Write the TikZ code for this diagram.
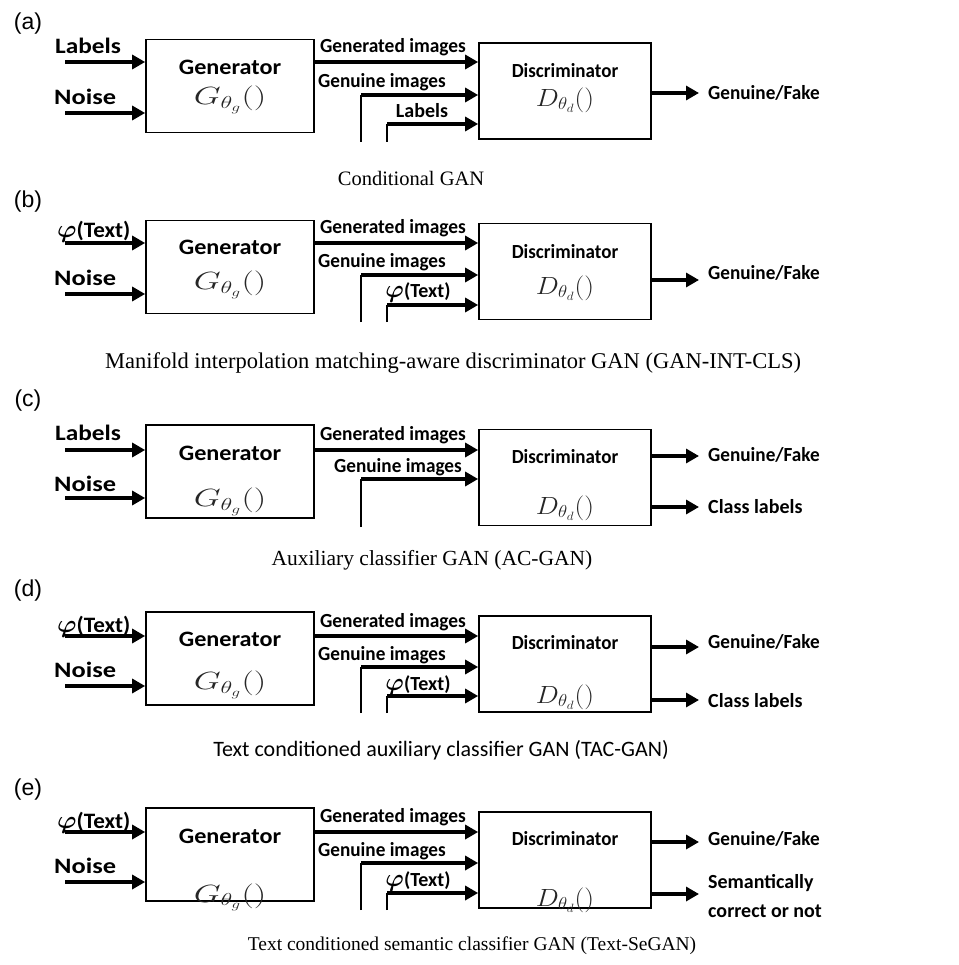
\documentclass[tikz,border=0pt]{standalone}
\usepackage{graphicx}
\usepackage{fontspec}
\setmainfont{Liberation Serif}
\newfontfamily\labfont{Carlito}
\newfontfamily\tagfont{Liberation Sans}
\usetikzlibrary{arrows.meta}

% horizontally stretched label text
\newcommand{\stretchx}[2]{\scalebox{#1}[1]{#2}}
% the phi used in the text inputs
\newcommand{\phitext}{{\fontsize{23}{24}\selectfont\boldmath$\varphi$}(Text)}

\tikzset{
  x=1pt, y=-1pt,
  genbox/.style={draw, line width=1.7pt, minimum width=168pt, minimum height=93pt, inner sep=0pt},
  disbox/.style={genbox, minimum width=172pt, minimum height=96pt},
  lab/.style={font=\labfont\bfseries\fontsize{20}{22}\selectfont, inner sep=0pt},
  biglab/.style={font=\labfont\bfseries\fontsize{22}{24}\selectfont, inner sep=0pt},
  boxtitle/.style={lab},
  gentitle/.style={biglab},
  inlab/.style={biglab, anchor=base west},
  midlab/.style={lab, anchor=base},
  outlab/.style={lab, anchor=west},
  mathlab/.style={font=\fontsize{26}{30}\selectfont, text=black!85, inner sep=0pt},
  captext/.style={inner sep=0pt},
  tag/.style={font=\tagfont\fontsize{23}{26}\selectfont, inner sep=0pt},
  arr/.style={line width=3.2pt, -{Triangle[length=13pt,width=14pt]}},
  stub/.style={line width=1.6pt},
}

\begin{document}
\begin{tikzpicture}
\useasboundingbox (0,0) rectangle (958,965);

% ---------------- (a) Conditional GAN ----------------
\node[tag] (a-tag) at (28,24) {(a)};
\node[genbox] (a-gen) at (230,86) {};
\node[gentitle] (a-gtitle) at (230,67) {\stretchx{1.1}{Generator}};
\node[mathlab] (a-gmath) at (230,100) {\stretchx{1.4}{$G_{\theta_g}()$}};
\node[disbox] (a-dis) at (565,91) {};
\node[boxtitle] (a-dtitle) at (565,71) {\stretchx{0.95}{Discriminator}};
\node[mathlab] (a-dmath) at (565,100) {\stretchx{1.1}{$D_{\theta_d}()$}};
\coordinate (a-in1) at (65,62);
\coordinate (a-in2) at (65,113);
\draw[arr] (a-in1) -- (a-in1 -| a-gen.west);
\draw[arr] (a-in2) -- (a-in2 -| a-gen.west);
\node[inlab] (a-lin1) at (55,54) {\stretchx{1.15}{Labels}};
\node[inlab] (a-lin2) at (54,105) {\stretchx{1.2}{Noise}};
\draw[arr] (a-gen.east |- a-in1) -- (a-dis.west |- a-in1);
\node[midlab] (a-lgen) at (393,53) {\stretchx{0.97}{Generated images}};
\coordinate (a-r1) at (361,142);
\coordinate (a-r1c) at (361,95);
\draw[stub] (a-r1) -- (a-r1c);
\draw[arr] (a-r1c) -- (a-r1c -| a-dis.west);
\node[midlab] (a-lreal) at (382,88) {\stretchx{0.96}{Genuine images}};
\coordinate (a-c1) at (387,142);
\coordinate (a-c1c) at (387,124);
\draw[stub] (a-c1) -- (a-c1c);
\draw[arr] (a-c1c) -- (a-c1c -| a-dis.west);
\node[midlab] (a-lcond) at (422,118) {Labels};
\coordinate (a-out1) at (699,93);
\draw[arr] (a-dis.east |- a-out1) -- (a-out1);
\node[outlab] (a-lout1) at (708,93) {\stretchx{0.96}{Genuine/Fake}};
\node[captext, font=\fontsize{20.5}{24}\selectfont] (a-cap) at (411,178) {Conditional GAN};

% ---------------- (b) GAN-INT-CLS ----------------
\node[tag] (b-tag) at (28,202) {(b)};
\node[genbox] (b-gen) at (230,267) {};
\node[gentitle] (b-gtitle) at (230,247) {\stretchx{1.1}{Generator}};
\node[mathlab] (b-gmath) at (230,285) {\stretchx{1.4}{$G_{\theta_g}()$}};
\node[disbox] (b-dis) at (565,271.5) {};
\node[boxtitle] (b-dtitle) at (565,252) {\stretchx{0.95}{Discriminator}};
\node[mathlab] (b-dmath) at (565,288) {\stretchx{1.1}{$D_{\theta_d}()$}};
\coordinate (b-in1) at (65,243);
\coordinate (b-in2) at (65,294);
\draw[arr] (b-in1) -- (b-in1 -| b-gen.west);
\draw[arr] (b-in2) -- (b-in2 -| b-gen.west);
\node[inlab] (b-lin1) at (57,238) {\stretchx{1.05}{\phitext}};
\node[inlab] (b-lin2) at (54,286) {\stretchx{1.2}{Noise}};
\draw[arr] (b-gen.east |- b-in1) -- (b-dis.west |- b-in1);
\node[midlab] (b-lgen) at (393,234) {\stretchx{0.97}{Generated images}};
\coordinate (b-r1) at (361,322);
\coordinate (b-r1c) at (361,275);
\draw[stub] (b-r1) -- (b-r1c);
\draw[arr] (b-r1c) -- (b-r1c -| b-dis.west);
\node[midlab] (b-lreal) at (382,268) {\stretchx{0.96}{Genuine images}};
\coordinate (b-c1) at (387,322);
\coordinate (b-c1c) at (387,305);
\draw[stub] (b-c1) -- (b-c1c);
\draw[arr] (b-c1c) -- (b-c1c -| b-dis.west);
\node[midlab] (b-lcond) at (418,297) {\phitext};
\coordinate (b-out1) at (699,280);
\draw[arr] (b-dis.east |- b-out1) -- (b-out1);
\node[outlab] (b-lout1) at (708,273) {\stretchx{0.96}{Genuine/Fake}};
\node[captext, font=\fontsize{22.5}{26}\selectfont] (b-cap) at (453,363) {Manifold interpolation matching-aware discriminator GAN (GAN-INT-CLS)};

% ---------------- (c) AC-GAN ----------------
\node[tag] (c-tag) at (28,401) {(c)};
\node[genbox] (c-gen) at (230,471.5) {};
\node[gentitle] (c-gtitle) at (230,453) {\stretchx{1.1}{Generator}};
\node[mathlab] (c-gmath) at (230,502) {\stretchx{1.4}{$G_{\theta_g}()$}};
\node[disbox] (c-dis) at (565,477.5) {};
\node[boxtitle] (c-dtitle) at (565,457) {\stretchx{0.95}{Discriminator}};
\node[mathlab] (c-dmath) at (565,508) {\stretchx{1.1}{$D_{\theta_d}()$}};
\coordinate (c-in1) at (65,450);
\coordinate (c-in2) at (65,498);
\draw[arr] (c-in1) -- (c-in1 -| c-gen.west);
\draw[arr] (c-in2) -- (c-in2 -| c-gen.west);
\node[inlab] (c-lin1) at (55,440) {\stretchx{1.15}{Labels}};
\node[inlab] (c-lin2) at (54,491) {\stretchx{1.2}{Noise}};
\draw[arr] (c-gen.east |- c-in1) -- (c-dis.west |- c-in1);
\node[midlab] (c-lgen) at (393,440) {\stretchx{0.97}{Generated images}};
\coordinate (c-r1) at (361,527);
\coordinate (c-r1c) at (361,479);
\draw[stub] (c-r1) -- (c-r1c);
\draw[arr] (c-r1c) -- (c-r1c -| c-dis.west);
\node[midlab] (c-lreal) at (398,472) {\stretchx{0.96}{Genuine images}};
\coordinate (c-out1) at (699,456);
\coordinate (c-out2) at (699,507);
\draw[arr] (c-dis.east |- c-out1) -- (c-out1);
\draw[arr] (c-dis.east |- c-out2) -- (c-out2);
\node[outlab] (c-lout1) at (708,455) {\stretchx{0.96}{Genuine/Fake}};
\node[outlab] (c-lout2) at (708,507) {Class labels};
\node[captext, font=\fontsize{21.5}{25}\selectfont] (c-cap) at (432,560) {Auxiliary classifier GAN (AC-GAN)};

% ---------------- (d) TAC-GAN ----------------
\node[tag] (d-tag) at (28,591) {(d)};
\node[genbox] (d-gen) at (230,658.5) {};
\node[gentitle] (d-gtitle) at (230,639) {\stretchx{1.1}{Generator}};
\node[mathlab] (d-gmath) at (230,685) {\stretchx{1.4}{$G_{\theta_g}()$}};
\node[disbox] (d-dis) at (565,664) {};
\node[boxtitle] (d-dtitle) at (565,643) {\stretchx{0.95}{Discriminator}};
\node[mathlab] (d-dmath) at (565,697) {\stretchx{1.1}{$D_{\theta_d}()$}};
\coordinate (d-in1) at (65,636);
\coordinate (d-in2) at (65,686);
\draw[arr] (d-in1) -- (d-in1 -| d-gen.west);
\draw[arr] (d-in2) -- (d-in2 -| d-gen.west);
\node[inlab] (d-lin1) at (57,632) {\stretchx{1.05}{\phitext}};
\node[inlab] (d-lin2) at (54,677) {\stretchx{1.2}{Noise}};
\draw[arr] (d-gen.east |- d-in1) -- (d-dis.west |- d-in1);
\node[midlab] (d-lgen) at (393,627) {\stretchx{0.97}{Generated images}};
\coordinate (d-r1) at (361,713);
\coordinate (d-r1c) at (361,667);
\draw[stub] (d-r1) -- (d-r1c);
\draw[arr] (d-r1c) -- (d-r1c -| d-dis.west);
\node[midlab] (d-lreal) at (382,660) {\stretchx{0.96}{Genuine images}};
\coordinate (d-c1) at (387,713);
\coordinate (d-c1c) at (387,696);
\draw[stub] (d-c1) -- (d-c1c);
\draw[arr] (d-c1c) -- (d-c1c -| d-dis.west);
\node[midlab] (d-lcond) at (418,690) {\phitext};
\coordinate (d-out1) at (699,647);
\coordinate (d-out2) at (699,700);
\draw[arr] (d-dis.east |- d-out1) -- (d-out1);
\draw[arr] (d-dis.east |- d-out2) -- (d-out2);
\node[outlab] (d-lout1) at (708,642) {\stretchx{0.96}{Genuine/Fake}};
\node[outlab] (d-lout2) at (708,701) {Class labels};
\node[captext, font=\labfont\fontsize{22}{25}\selectfont] (d-cap) at (441,750) {Text conditioned auxiliary classifier GAN (TAC-GAN)};

% ---------------- (e) Text-SeGAN ----------------
\node[tag] (e-tag) at (28,790) {(e)};
\node[genbox] (e-gen) at (230,854.5) {};
\node[gentitle] (e-gtitle) at (230,836) {\stretchx{1.1}{Generator}};
\node[mathlab] (e-gmath) at (230,897) {\stretchx{1.4}{$G_{\theta_g}()$}};
\node[disbox] (e-dis) at (565,860) {};
\node[boxtitle] (e-dtitle) at (565,839) {\stretchx{0.95}{Discriminator}};
\node[mathlab] (e-dmath) at (565,900) {\stretchx{1.1}{$D_{\theta_d}()$}};
\coordinate (e-in1) at (65,832);
\coordinate (e-in2) at (65,882);
\draw[arr] (e-in1) -- (e-in1 -| e-gen.west);
\draw[arr] (e-in2) -- (e-in2 -| e-gen.west);
\node[inlab] (e-lin1) at (57,828) {\stretchx{1.05}{\phitext}};
\node[inlab] (e-lin2) at (54,873) {\stretchx{1.2}{Noise}};
\draw[arr] (e-gen.east |- e-in1) -- (e-dis.west |- e-in1);
\node[midlab] (e-lgen) at (393,822) {\stretchx{0.97}{Generated images}};
\coordinate (e-r1) at (361,910);
\coordinate (e-r1c) at (361,863);
\draw[stub] (e-r1) -- (e-r1c);
\draw[arr] (e-r1c) -- (e-r1c -| e-dis.west);
\node[midlab] (e-lreal) at (382,856) {\stretchx{0.96}{Genuine images}};
\coordinate (e-c1) at (387,910);
\coordinate (e-c1c) at (387,893);
\draw[stub] (e-c1) -- (e-c1c);
\draw[arr] (e-c1c) -- (e-c1c -| e-dis.west);
\node[midlab] (e-lcond) at (418,886) {\phitext};
\coordinate (e-out1) at (699,842);
\coordinate (e-out2) at (699,894);
\draw[arr] (e-dis.east |- e-out1) -- (e-out1);
\draw[arr] (e-dis.east |- e-out2) -- (e-out2);
\node[outlab] (e-lout1) at (708,839) {\stretchx{0.96}{Genuine/Fake}};
\node[outlab, align=left, font=\labfont\bfseries\fontsize{20}{29}\selectfont] (e-lout2) at (708,896) {Semantically\\correct or not};
\node[captext, font=\fontsize{19.5}{23}\selectfont] (e-cap) at (472,946) {Text conditioned semantic classifier GAN (Text-SeGAN)};

\end{tikzpicture}
\end{document}
